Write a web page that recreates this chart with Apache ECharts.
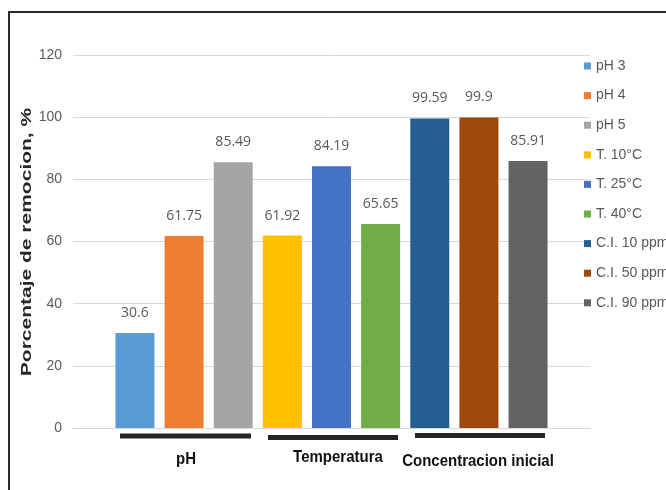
<!DOCTYPE html>
<html><head><meta charset="utf-8">
<script src="https://cdn.jsdelivr.net/npm/echarts@6/dist/echarts.min.js"></script>
<style>html,body{margin:0;padding:0;background:#fff}#c{width:666px;height:490px}</style>
</head><body><div id="c"></div>
<script>
const seriesNames = ['pH 3','pH 4','pH 5','T. 10°C','T. 25°C','T. 40°C','C.I. 10 ppm','C.I. 50 ppm','C.I. 90 ppm'];
const seriesValues = [30.6, 61.75, 85.49, 61.92, 84.19, 65.65, 99.59, 99.9, 85.91];
const seriesColors = ['#5B9BD5','#ED7D31','#A5A5A5','#FFC000','#4472C4','#70AD47','#255E91','#9E480E','#636363'];
const groupLabels = ['pH','Temperatura','Concentracion inicial'];
const yTicks = [0,20,40,60,80,100,120];
const yAxisTitle = 'Porcentaje de remocion, %';

const chart = echarts.init(document.getElementById('c'));
const sans = "'Liberation Sans',Arial,sans-serif";
const series = seriesNames.map((n,i)=>({
  name:n, type:'bar', data:[seriesValues[i]], barWidth:39, barGap:'26%',
  itemStyle:{color:seriesColors[i]},
  label:{show:true, position:'top', distance:13, color:'#595959', fontSize:14, fontFamily:"'Open Sans','Liberation Sans',sans-serif",
    formatter:p=>String(p.value)}
}));
const groupPos = [
  {x1:120,x2:251,y:436,tx:186,ty:459},
  {x1:268,x2:398,y:437.5,tx:338,ty:457},
  {x1:415,x2:545,y:435.5,tx:478,ty:461}
];
const graphics = [
  {type:'rect', shape:{x:9,y:12,width:700,height:500}, style:{fill:'none',stroke:'#2b2b2b',lineWidth:2}, silent:true},
  {type:'text', x:27, y:242, rotation:Math.PI/2, scaleX:1.4, scaleY:1,
    style:{text:yAxisTitle, fill:'#262626', font:"bold 15px "+sans, textAlign:'center', textVerticalAlign:'middle'}}
];
groupPos.forEach((g,i)=>{
  graphics.push({type:'rect', shape:{x:g.x1,y:g.y-2.5,width:g.x2-g.x1,height:5}, style:{fill:'#262626'}});
  graphics.push({type:'text', x:g.tx, y:g.ty, scaleY:1.15,
    style:{text:groupLabels[i], fill:'#111', font:"bold 15px "+sans, textAlign:'center', textVerticalAlign:'middle'}});
});
chart.setOption({
  animation:false,
  grid:{left:73,right:76,top:55,bottom:62},
  legend:{orient:'vertical', left:584, top:59, padding:0, itemWidth:7, itemHeight:7, itemGap:15.6, icon:'rect',
    textStyle:{color:'#595959', fontSize:14, fontFamily:sans}, data:seriesNames},
  xAxis:{type:'category', data:[''], axisLine:{lineStyle:{color:'#d9d9d9'}}, axisTick:{show:false}, axisLabel:{show:false}},
  yAxis:{type:'value', min:yTicks[0], max:yTicks[yTicks.length-1], interval:20,
    axisLine:{show:false}, axisTick:{show:false},
    axisLabel:{color:'#595959', fontSize:14, margin:11, fontFamily:sans},
    splitLine:{lineStyle:{color:'#d9d9d9'}}},
  series:series,
  graphic:graphics
});
</script></body></html>
